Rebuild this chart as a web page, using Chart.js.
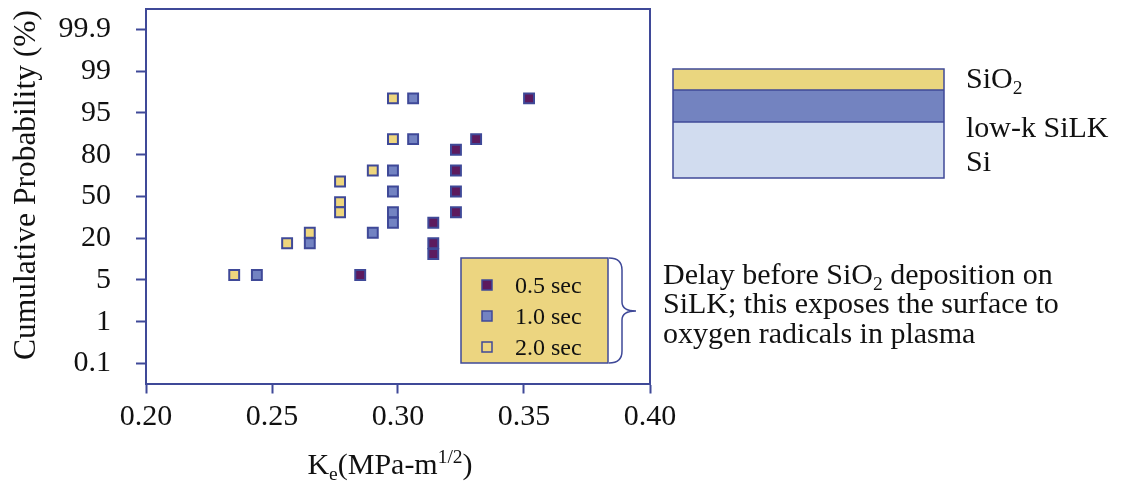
<!DOCTYPE html>
<html>
<head>
<meta charset="utf-8">
<script src="https://cdn.jsdelivr.net/npm/chart.js@4.4.1/dist/chart.umd.min.js"></script>
<style>
  html, body { margin: 0; padding: 0; background: #fff; }
</style>
</head>
<body>
<canvas id="myChart" width="1131" height="483"></canvas>
<script>
const ctx = document.getElementById('myChart');

// probability axis labels (evenly spaced on the plot) and K axis ticks
const probTicks = [0.1, 1, 5, 20, 50, 80, 95, 99, 99.9];
const kTicks = [0.20, 0.25, 0.30, 0.35, 0.40];

// 0.5 sec delay
const k05 = [0.352, 0.331, 0.323, 0.323, 0.323, 0.323, 0.314, 0.314, 0.314, 0.285];
const p05 = [96.4, 85.6, 81.8, 68.6, 53.6, 38.6, 31.1, 18.2, 14.3, 6.8];
// 1.0 sec delay
const k10 = [0.306, 0.306, 0.298, 0.298, 0.298, 0.298, 0.290, 0.265, 0.244];
const p10 = [96.4, 85.6, 68.6, 53.6, 38.6, 31.1, 23.9, 18.2, 6.8];
// 2.0 sec delay
const k20 = [0.298, 0.298, 0.290, 0.277, 0.277, 0.277, 0.265, 0.256, 0.235];
const p20 = [96.4, 85.6, 68.6, 60.8, 45.8, 38.6, 23.9, 18.2, 6.8];

const navy = '#3f4998';
const serif = '"Liberation Serif", "Times New Roman", serif';
const colDark = '#5c1a5e';
const colBlue = '#7383c2';
const colYellow = '#eed67e';

// place a probability on the evenly spaced tick positions
function probPos(p) {
    for (let i = 0; i < probTicks.length - 1; i++) {
        if (p <= probTicks[i + 1]) {
            return i + (p - probTicks[i]) / (probTicks[i + 1] - probTicks[i]);
        }
    }
    return probTicks.length - 1;
}

function toPoints(ks, ps) {
    return ks.map((k, i) => ({ x: k, y: probPos(ps[i]) }));
}

// text with sub/superscripts
function richWidth(c, parts, size) {
    let w = 0;
    parts.forEach(p => {
        c.font = ((p.sub || p.sup) ? size * 0.65 : size) + 'px ' + serif;
        w += c.measureText(p.t).width;
    });
    return w;
}
function richText(c, parts, x, y, size) {
    let cx = x;
    parts.forEach(p => {
        const s = (p.sub || p.sup) ? size * 0.65 : size;
        c.font = s + 'px ' + serif;
        const dy = p.sub ? size * 0.2 : (p.sup ? -size * 0.36 : 0);
        c.fillText(p.t, cx, y + dy);
        cx += c.measureText(p.t).width;
    });
}

const extras = {
    id: 'extras',
    beforeDatasetsDraw(chart) {
        const c = chart.ctx;
        const a = chart.chartArea;
        c.save();
        c.strokeStyle = navy;
        c.lineWidth = 2;
        c.beginPath();
        c.moveTo(a.left, a.top);
        c.lineTo(a.right, a.top);
        c.lineTo(a.right, a.bottom);
        c.stroke();
        c.restore();
    },
    afterDraw(chart) {
        const c = chart.ctx;
        const a = chart.chartArea;
        c.save();
        c.fillStyle = '#111';
        c.textBaseline = 'alphabetic';
        c.textAlign = 'left';

        // y axis title
        c.save();
        c.translate(35, 185);
        c.rotate(-Math.PI / 2);
        c.textAlign = 'center';
        c.font = '31.5px ' + serif;
        c.fillText('Cumulative Probability (%)', 0, 0);
        c.restore();

        // x axis title
        const xt = [{ t: 'K' }, { t: 'e', sub: true }, { t: '(MPa-m' }, { t: '1/2', sup: true }, { t: ')' }];
        const xw = richWidth(c, xt, 30);
        richText(c, xt, (a.left + a.right) / 2 - 8 - xw / 2, 474, 30);

        // legend box
        c.fillStyle = '#ecd580';
        c.fillRect(461, 258, 147, 105);
        c.strokeStyle = navy;
        c.lineWidth = 1.5;
        c.strokeRect(461, 258, 147, 105);
        const leg = [['0.5 sec', colDark], ['1.0 sec', colBlue], ['2.0 sec', colYellow]];
        leg.forEach((l, i) => {
            const y = 285 + i * 31;
            c.fillStyle = l[1];
            c.fillRect(482, y - 5, 10, 10);
            c.strokeStyle = navy;
            c.lineWidth = 1.5;
            c.strokeRect(482, y - 5, 10, 10);
            c.fillStyle = '#111';
            c.font = '24px ' + serif;
            c.fillText(l[0], 515, y + 8);
        });

        // brace
        c.strokeStyle = navy;
        c.lineWidth = 1.5;
        c.beginPath();
        c.moveTo(609, 258);
        c.quadraticCurveTo(622, 258, 622, 270);
        c.lineTo(622, 302);
        c.quadraticCurveTo(622, 311, 636, 311);
        c.quadraticCurveTo(622, 311, 622, 320);
        c.lineTo(622, 351);
        c.quadraticCurveTo(622, 363, 609, 363);
        c.stroke();

        // annotation
        c.fillStyle = '#111';
        richText(c, [{ t: 'Delay before SiO' }, { t: '2', sub: true }, { t: ' deposition on' }], 663, 284, 30);
        richText(c, [{ t: 'SiLK; this exposes the surface to' }], 663, 313, 30);
        richText(c, [{ t: 'oxygen radicals in plasma' }], 663, 343, 30);

        // layer stack
        c.lineWidth = 1.5;
        c.strokeStyle = navy;
        c.fillStyle = '#d1dcef';
        c.fillRect(673, 122, 271, 56);
        c.fillStyle = '#7383c0';
        c.fillRect(673, 90, 271, 32);
        c.fillStyle = '#ead67f';
        c.fillRect(673, 69, 271, 21);
        c.strokeRect(673, 69, 271, 109);
        c.beginPath();
        c.moveTo(673, 90); c.lineTo(944, 90);
        c.moveTo(673, 122); c.lineTo(944, 122);
        c.stroke();

        c.fillStyle = '#111';
        richText(c, [{ t: 'SiO' }, { t: '2', sub: true }], 966, 88, 30);
        richText(c, [{ t: 'low-k SiLK' }], 966, 137, 30);
        richText(c, [{ t: 'Si' }], 966, 171, 30);
        c.restore();
    }
};

new Chart(ctx, {
    type: 'scatter',
    data: {
        datasets: [
            {
                label: '0.5 sec',
                data: toPoints(k05, p05),
                backgroundColor: colDark,
                borderColor: navy
            },
            {
                label: '1.0 sec',
                data: toPoints(k10, p10),
                backgroundColor: colBlue,
                borderColor: navy
            },
            {
                label: '2.0 sec',
                data: toPoints(k20, p20),
                backgroundColor: colYellow,
                borderColor: navy
            }
        ]
    },
    options: {
        responsive: false,
        animation: false,
        elements: {
            point: { pointStyle: 'rect', radius: 7, borderWidth: 2 }
        },
        layout: { padding: { top: 2, right: 481, left: 0, bottom: 0 } },
        plugins: {
            legend: { display: false },
            tooltip: { enabled: false }
        },
        scales: {
            x: {
                type: 'linear',
                min: 0.2,
                max: 0.4,
                afterBuildTicks: s => { s.ticks = kTicks.map(v => ({ value: v })); },
                afterFit: s => { s.height = 99.5; s.paddingLeft = 0; s.paddingRight = 0; },
                grid: { drawOnChartArea: false, drawTicks: true, tickLength: 10, tickWidth: 2, tickColor: navy },
                border: { display: true, color: navy, width: 2 },
                ticks: {
                    color: '#111',
                    font: { family: serif, size: 30 },
                    padding: 6,
                    maxRotation: 0,
                    callback: v => v.toFixed(2)
                }
            },
            y: {
                type: 'linear',
                min: -0.48,
                max: 8.49,
                afterBuildTicks: s => { s.ticks = probTicks.map((p, i) => ({ value: i })); },
                afterFit: s => { s.width = 146; s.paddingTop = 0; s.paddingBottom = 0; },
                grid: { drawOnChartArea: false, drawTicks: true, tickLength: 10, tickWidth: 2, tickColor: navy },
                border: { display: true, color: navy, width: 2 },
                ticks: {
                    color: '#111',
                    font: { family: serif, size: 30 },
                    padding: 25,
                    callback: (v, i) => String(probTicks[i])
                }
            }
        }
    },
    plugins: [extras]
});
</script>
</body>
</html>
